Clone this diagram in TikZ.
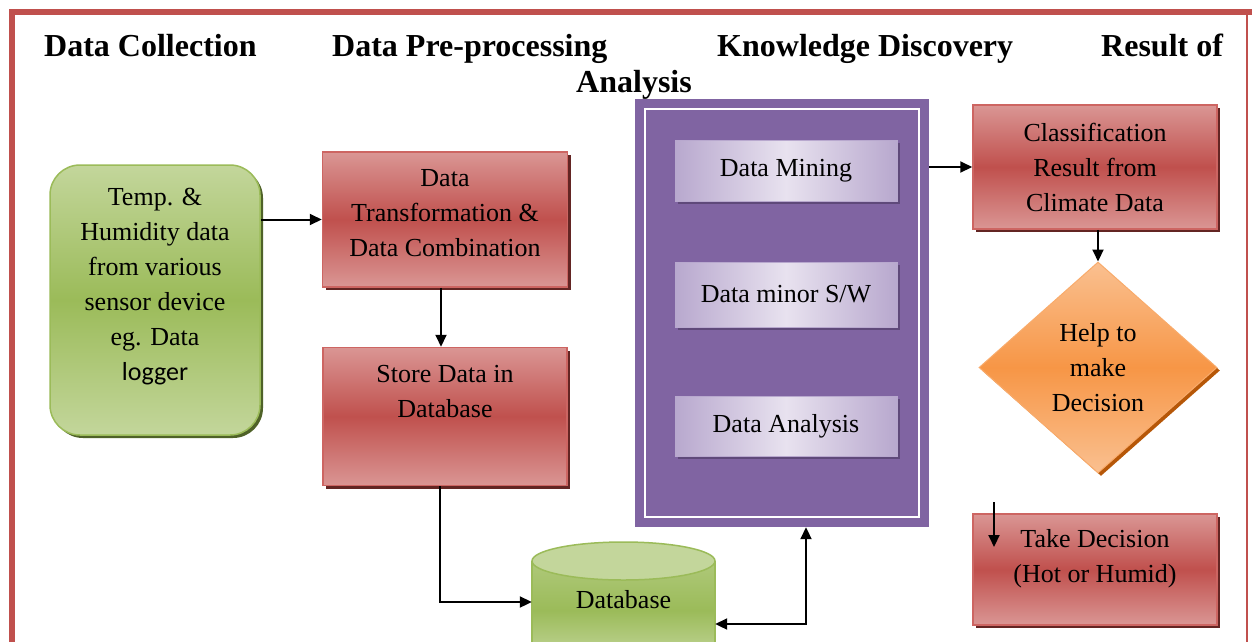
\documentclass[tikz,border=0pt]{standalone}
\usepackage{fontspec}
\setmainfont{Liberation Serif}
\newfontfamily\calib{Carlito}
\usetikzlibrary{shapes.geometric,shadows,arrows.meta}
\definecolor{frameRed}{HTML}{C0504D}
\definecolor{redLight}{HTML}{DA9694}
\definecolor{redMid}{HTML}{C0504D}
\definecolor{redLine}{HTML}{CD6562}
\definecolor{redShadow}{HTML}{632523}
\definecolor{grnLight}{HTML}{C3D69B}
\definecolor{grnMid}{HTML}{9BBB59}
\definecolor{grnShadow}{HTML}{4F6228}
\definecolor{purp}{HTML}{8064A2}
\definecolor{lavLight}{HTML}{E8E2EF}
\definecolor{lavDark}{HTML}{B8A8CE}
\definecolor{lavShadow}{HTML}{5F497A}
\definecolor{orgMid}{HTML}{F79646}
\definecolor{orgLight}{HTML}{FAC090}
\definecolor{orgShadow}{HTML}{B65708}
\begin{document}
\begin{tikzpicture}[x=1pt,y=-1pt,
  every node/.style={font=\fontsize{26}{35}\selectfont, align=center, inner sep=0pt},
  ttl/.style={font=\bfseries\fontsize{32}{38}\selectfont, anchor=base west},
  redbox/.style={draw=redLine, line width=1.5pt, shading=axis, top color=redLight, bottom color=redLight, middle color=redMid,
    drop shadow={shadow xshift=3pt, shadow yshift=-3pt, fill=redShadow, opacity=1}},
  grnbox/.style={draw=grnMid, line width=1.5pt, rounded corners=30pt, shading=axis, top color=grnLight, bottom color=grnLight, middle color=grnMid,
    drop shadow={shadow xshift=3pt, shadow yshift=-3pt, fill=grnShadow, opacity=1}},
  lavbox/.style={draw=lavDark, line width=1pt, shading=axis, shading angle=30, left color=lavDark, right color=lavDark, middle color=lavLight,
    drop shadow={shadow xshift=3pt, shadow yshift=-3pt, fill=lavShadow, opacity=1}},
  orgbox/.style={diamond, draw=orgMid!80!white, line width=1pt, shading=axis, top color=orgLight, bottom color=orgLight, middle color=orgMid,
    drop shadow={shadow xshift=3pt, shadow yshift=-3pt, fill=orgShadow, opacity=1}},
  arr/.style={line width=2pt, -{Triangle[length=12pt,width=11pt]}},
  darr/.style={line width=2pt, {Triangle[length=12pt,width=11pt]}-{Triangle[length=12pt,width=11pt]}}
]
\useasboundingbox (0,0) rectangle (1252,641);
\clip (0,0) rectangle (1252,641);
\fill[white] (0,0) rectangle (1252,641);
% frame
\draw[frameRed, line width=6pt] (12,660) -- (12,12) -- (1260,12);
\draw[frameRed, line width=2pt] (1247,12) -- (1247,660);
% titles
\node[ttl] (t1) at (44,56) {Data Collection};
\node[ttl] (t2) at (332,56) {Data Pre-processing};
\node[ttl] (t3) at (717,56) {Knowledge Discovery};
\node[ttl] (t4) at (1101,56) {Result of};
\node[ttl] (t5) at (576,92) {Analysis};
% green source
\node[grnbox, minimum width=210pt, minimum height=270pt] (src) at (155,300) {};
\node (srct) at (155,287) {Temp. \&\\Humidity data\\from various\\sensor device\\eg. Data\\{\calib logger}};
% preprocessing
\node[redbox, minimum width=245pt, minimum height=135pt] (trans) at (445,219.5) {};
\node (transt) at (445,213) {Data\\Transformation \&\\Data Combination};
\node[redbox, minimum width=244pt, minimum height=138pt] (store) at (445,416.5) {};
\node (storet) at (445,391.5) {Store Data in\\Database};
% database cylinder
\node[minimum width=183pt, minimum height=40pt] (db) at (623.5,602) {};
\path[shading=axis, top color=grnMid!80!white, bottom color=grnLight, middle color=grnMid] (532,561) -- (532,660) -- (715,660) -- (715,561) -- cycle;
\draw[grnMid, line width=1.5pt] (532,561) -- (532,660) (715,561) -- (715,660);
\draw[grnMid, line width=1.5pt, fill=grnLight] (623.5,561) ellipse [x radius=91.5, y radius=19];
\node (dbt) at (623.5,600) {Database};
% knowledge discovery
\node[fill=purp, minimum width=294pt, minimum height=428pt] (kd) at (782,313) {};
\draw[white, line width=2.5pt] ([shift={(10pt,-10pt)}]kd.north west) rectangle ([shift={(-10pt,10pt)}]kd.south east);
\node[lavbox, minimum width=222pt, minimum height=61pt] (dm) at (786,170.5) {Data Mining};
\node[lavbox, minimum width=222pt, minimum height=65pt] (dsw) at (786,294.5) {Data minor S/W};
\node[lavbox, minimum width=222pt, minimum height=60pt] (da) at (786,426) {Data Analysis};
% results
\node[redbox, minimum width=244pt, minimum height=124pt] (cls) at (1095,167) {Classification\\Result from\\Climate Data};
\node[orgbox, minimum width=238pt, minimum height=211pt] (dia) at (1098,367.5) {Help to\\make\\Decision};
\node[redbox, minimum width=244pt, minimum height=111pt] (td) at (1095,569.5) {};
\node (tdt) at (1095,558.5) {Take Decision\\(Hot or Humid)};
\coordinate (tda) at (994,502);
\coordinate (tdb) at (994,547);
% connectors
\draw[arr] (src.east |- trans.west) -- (trans.west);
\draw[arr] ([xshift=-4pt]trans.south) -- ([xshift=-4pt]store.north);
\draw[arr] ([xshift=-5pt]store.south) |- (db.west);
\draw[darr] ([yshift=-22pt]db.east) -| ([xshift=24pt]kd.south);
\draw[arr] (kd.east |- cls.west) -- (cls.west);
\draw[arr] (cls.south -| dia.north) -- (dia.north);
\draw[arr] (tda) -- (tdb);
\end{tikzpicture}
\end{document}
